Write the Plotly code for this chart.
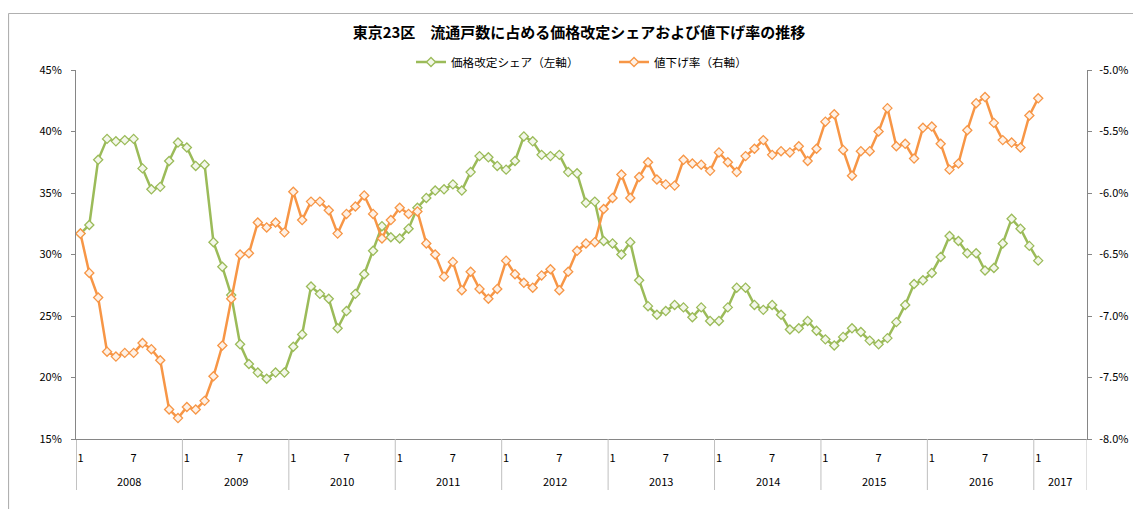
import pandas as pd
import plotly.graph_objects as go

# ---- data ----
months = pd.period_range("2008-01", "2017-06", freq="M")
categories = [p.strftime("%Y-%m") for p in months]

share = [31.7, 32.4, 37.7, 39.4, 39.2, 39.3, 39.4, 37.0, 35.3, 35.5, 37.6, 39.1,
         38.7, 37.2, 37.3, 31.0, 29.0, 26.7, 22.7, 21.1, 20.4, 19.9, 20.4, 20.4,
         22.5, 23.5, 27.4, 26.8, 26.4, 24.0, 25.4, 26.8, 28.4, 30.3, 32.3, 31.4,
         31.3, 32.1, 33.8, 34.6, 35.2, 35.3, 35.7, 35.2, 36.7, 38.0, 37.9, 37.2,
         36.9, 37.6, 39.6, 39.2, 38.1, 38.0, 38.1, 36.7, 36.6, 34.2, 34.3, 31.1,
         30.9, 30.0, 31.0, 27.9, 25.8, 25.1, 25.4, 25.9, 25.7, 24.9, 25.7, 24.6,
         24.6, 25.7, 27.3, 27.3, 25.9, 25.5, 25.9, 25.1, 23.9, 24.0, 24.6, 23.8,
         23.1, 22.6, 23.3, 24.0, 23.7, 23.0, 22.7, 23.2, 24.5, 25.9, 27.6, 27.9,
         28.5, 29.8, 31.5, 31.1, 30.1, 30.1, 28.7, 28.9, 30.9, 32.9, 32.1, 30.7,
         29.5]

discount = [-6.33, -6.65, -6.85, -7.29, -7.33, -7.30, -7.30, -7.22, -7.27, -7.36, -7.76, -7.83,
            -7.74, -7.76, -7.69, -7.49, -7.24, -6.86, -6.50, -6.49, -6.24, -6.28, -6.24, -6.32,
            -5.99, -6.22, -6.07, -6.07, -6.14, -6.33, -6.17, -6.11, -6.02, -6.17, -6.37, -6.22,
            -6.12, -6.17, -6.15, -6.41, -6.50, -6.68, -6.56, -6.79, -6.64, -6.78, -6.86, -6.78,
            -6.55, -6.66, -6.73, -6.77, -6.67, -6.62, -6.79, -6.64, -6.47, -6.41, -6.40, -6.13,
            -6.04, -5.85, -6.04, -5.87, -5.75, -5.89, -5.93, -5.94, -5.73, -5.76, -5.77, -5.82,
            -5.67, -5.75, -5.83, -5.70, -5.64, -5.57, -5.69, -5.66, -5.67, -5.62, -5.74, -5.64,
            -5.42, -5.36, -5.65, -5.86, -5.66, -5.66, -5.50, -5.31, -5.62, -5.60, -5.72, -5.47,
            -5.46, -5.60, -5.81, -5.76, -5.49, -5.27, -5.22, -5.43, -5.57, -5.59, -5.63, -5.37,
            -5.23]

left_ticks = [15, 20, 25, 30, 35, 40, 45]
right_ticks = [-8.0, -7.5, -7.0, -6.5, -6.0, -5.5, -5.0]
years = list(range(2008, 2018))

title_text = "東京23区　流通戸数に占める価格改定シェアおよび値下げ率の推移"
name_share = "価格改定シェア（左軸）"
name_disc = "値下げ率（右軸）"

# ---- styles ----
GREEN = "#9BBB59"
ORANGE = "#F79646"
AXIS = "#868686"
SEP = "#BFBFBF"
FONT = "Noto Sans CJK JP"

OFF = 8  # page body margin
W, H = 1141 - OFF, 509 - OFF
# plot area in screen coords: x 76..1087, y 70..439
L, T = 76 - OFF, 70 - OFF
R = W - (1087 - OFF)
B = H - (439 - OFF)
PW, PH = W - L - R, H - T - B


def py2paper(py):  # py in screen coords
    return (H - B - (py - OFF)) / PH


def px2paper(px):
    return (px - OFF - L) / PW


fig = go.Figure()
fig.add_trace(go.Scatter(
    x=categories[:len(share)], y=share, name=name_share, mode="lines+markers",
    line=dict(color=GREEN, width=2.5),
    marker=dict(symbol="diamond", size=7, color="#F3F7EA", line=dict(color=GREEN, width=1.3)),
    yaxis="y"))
fig.add_trace(go.Scatter(
    x=categories[:len(discount)], y=discount, name=name_disc, mode="lines+markers",
    line=dict(color=ORANGE, width=2.5),
    marker=dict(symbol="diamond", size=7, color="#FEF1E6", line=dict(color=ORANGE, width=1.3)),
    yaxis="y2"))

tickvals = [c for c, p in zip(categories, months) if p.month in (1, 7)]
ticktext = [str(p.month) for p in months if p.month in (1, 7)]

shapes = []
for y in years:
    idx = [i for i, p in enumerate(months) if p.year == y]
    shapes.append(dict(type="line", xref="x", yref="paper", x0=idx[0] - 0.5, x1=idx[0] - 0.5,
                       y0=0, y1=py2paper(490), line=dict(color=SEP if idx[0] else AXIS, width=1)))
shapes.append(dict(type="line", xref="x", yref="paper", x0=len(categories) - 0.5, x1=len(categories) - 0.5,
                   y0=0, y1=py2paper(490), line=dict(color=SEP, width=1)))
# chart-area border (top and left edges visible)
shapes.append(dict(type="line", xref="paper", yref="paper", x0=px2paper(8.5), x1=px2paper(1150),
                   y0=py2paper(13.5), y1=py2paper(13.5), line=dict(color="#B0B0B0", width=1.2),
                   layer="above"))
shapes.append(dict(type="line", xref="paper", yref="paper", x0=px2paper(8.5), x1=px2paper(8.5),
                   y0=py2paper(13.5), y1=py2paper(520), line=dict(color="#B0B0B0", width=1.2),
                   layer="above"))

annotations = []
for y in years:
    idx = [i for i, p in enumerate(months) if p.year == y]
    annotations.append(dict(x=(idx[0] + idx[-1]) / 2, y=py2paper(481.5), xref="x", yref="paper",
                            text=str(y), showarrow=False, xanchor="center", yanchor="middle",
                            font=dict(family=FONT, size=11, color="#000000")))

fig.update_layout(
    width=W, height=H,
    margin=dict(l=L, r=R, t=T, b=B),
    paper_bgcolor="white", plot_bgcolor="white",
    title=dict(text=f"<b>{title_text}</b>", x=(579 - OFF) / W, xanchor="center",
               y=1 - (33 - OFF) / H, yanchor="middle", font=dict(family=FONT, size=15, color="#000000")),
    font=dict(family=FONT, size=11, color="#000000"),
    showlegend=True,
    legend=dict(orientation="h", x=px2paper(411), xanchor="left", y=py2paper(62), yanchor="middle",
                font=dict(family=FONT, size=11.6, color="#000000"), bgcolor="rgba(0,0,0,0)",
                entrywidth=158, entrywidthmode="pixels", itemwidth=30),
    xaxis=dict(type="category", categoryorder="array", categoryarray=categories,
               range=[-0.5, len(categories) - 0.5], showgrid=False, zeroline=False,
               showline=True, linecolor=AXIS, linewidth=1, ticks="",
               tickmode="array", tickvals=tickvals, ticktext=ticktext,
               tickangle=0, ticklabelstandoff=9, tickfont=dict(family=FONT, size=11)),
    yaxis=dict(range=[15, 45], tickmode="array", tickvals=left_ticks,
               ticktext=[f"{v}%" for v in left_ticks], showgrid=False, zeroline=False,
               showline=True, linecolor=AXIS, linewidth=1, ticks="outside", ticklen=4,
               tickcolor=AXIS, ticklabelstandoff=7, tickfont=dict(family=FONT, size=11)),
    yaxis2=dict(range=[-8, -5], overlaying="y", side="right", tickmode="array",
                tickvals=right_ticks, ticktext=[f"{v:.1f}%" for v in right_ticks],
                showgrid=False, zeroline=False, showline=True, linecolor=AXIS, linewidth=1,
                ticks="outside", ticklen=4, tickcolor=AXIS, ticklabelstandoff=5,
                tickfont=dict(family=FONT, size=11)),
    shapes=shapes, annotations=annotations,
)

fig.write_html("out.html")
